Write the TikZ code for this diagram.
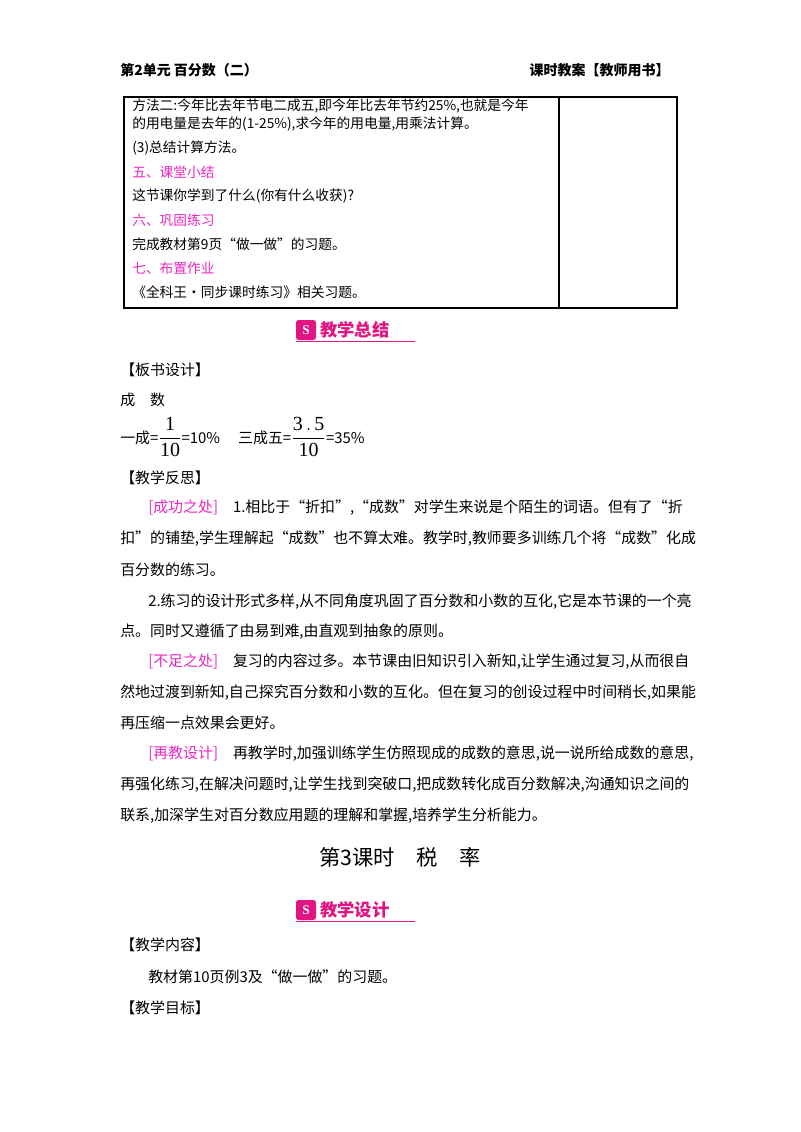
\documentclass[tikz,border=0pt]{standalone}
\usepackage{fontspec}
\setmainfont{Liberation Serif}
\newfontfamily\cjk{Noto Sans CJK SC}
\definecolor{pinkc}{RGB}{235,40,190}
\definecolor{bannerc}{RGB}{225,20,130}
\newcommand{\bigfr}[2]{{\fontsize{15}{17}\selectfont$\displaystyle\frac{\mathrm{#1}}{\mathrm{#2}}$}}
\begin{document}
\begin{tikzpicture}[x=0.75pt,y=-0.75pt,
  tb/.style={anchor=west,inner sep=0pt,font=\cjk\fontsize{10.3}{12}\selectfont},
  bd/.style={anchor=west,inner sep=0pt,font=\cjk\fontsize{11.2}{13}\selectfont},
  hd/.style={anchor=west,inner sep=0pt,font=\cjk\bfseries\fontsize{10.5}{12}\selectfont},
  pk/.style={text=pinkc}]
\useasboundingbox (0,0) rectangle (800,1132);
% header
\node[hd] (h1) at (120,70) {第2单元 百分数（二）};
\node[hd,anchor=east] (h2) at (670,70) {课时教案【教师用书】};
% table
\draw[line width=0.9pt] (124,97) rectangle (677,308);
\draw[line width=0.9pt] (559,97) -- (559,308);
\node[tb] (t1) at (132,106) {方法二:今年比去年节电二成五,即今年比去年节约25\%,也就是今年};
\node[tb] (t2) at (132,124) {的用电量是去年的(1-25\%),求今年的用电量,用乘法计算。};
\node[tb] (t3) at (132,148) {(3)总结计算方法。};
\node[tb,pk] (t4) at (132,172) {五、课堂小结};
\node[tb] (t5) at (132,196) {这节课你学到了什么(你有什么收获)?};
\node[tb,pk] (t6) at (132,220) {六、巩固练习};
\node[tb] (t7) at (132,244) {完成教材第9页“做一做”的习题。};
\node[tb,pk] (t8) at (132,268) {七、布置作业};
\node[tb] (t9) at (132,292) {《全科王·同步课时练习》相关习题。};
% banner 1
\fill[bannerc,rounded corners=2pt] (296,320) rectangle (316,340);
\node[text=white,font=\bfseries\fontsize{10}{10}\selectfont] (i1) at (306,330) {S};
\node[anchor=west,inner sep=0pt,text=bannerc,font=\cjk\bfseries\fontsize{13}{14}\selectfont] (b1) at (320,330) {教学总结};
\draw[bannerc,line width=0.6pt] (296,341.5) -- (415,341.5);
% body
\node[bd] (p1) at (120,370) {【板书设计】};
\node[bd] (p2) at (120,400) {成\hspace{1em}数};
\node[bd] (p3) at (120,437) {一成=\bigfr{1}{10}=10\%\hspace{1.2em}三成五=\bigfr{3\,.\,5}{10}=35\%};
\node[bd] (p4) at (120,478) {【教学反思】};
\node[bd] (l1) at (148,508) {\textcolor{pinkc}{[成功之处]}\hspace{1em}1.相比于“折扣”,“成数”对学生来说是个陌生的词语。但有了“折};
\node[bd] (l2) at (120,539) {扣”的铺垫,学生理解起“成数”也不算太难。教学时,教师要多训练几个将“成数”化成};
\node[bd] (l3) at (120,570) {百分数的练习。};
\node[bd] (l4) at (148,602) {2.练习的设计形式多样,从不同角度巩固了百分数和小数的互化,它是本节课的一个亮};
\node[bd] (l5) at (120,632) {点。同时又遵循了由易到难,由直观到抽象的原则。};
\node[bd] (l6) at (148,662) {\textcolor{pinkc}{[不足之处]}\hspace{1em}复习的内容过多。本节课由旧知识引入新知,让学生通过复习,从而很自};
\node[bd] (l7) at (120,693) {然地过渡到新知,自己探究百分数和小数的互化。但在复习的创设过程中时间稍长,如果能};
\node[bd] (l8) at (120,723) {再压缩一点效果会更好。};
\node[bd] (l9) at (148,754) {\textcolor{pinkc}{[再教设计]}\hspace{1em}再教学时,加强训练学生仿照现成的成数的意思,说一说所给成数的意思,};
\node[bd] (l10) at (120,785) {再强化练习,在解决问题时,让学生找到突破口,把成数转化成百分数解决,沟通知识之间的};
\node[bd] (l11) at (120,816) {联系,加深学生对百分数应用题的理解和掌握,培养学生分析能力。};
% title
\node[inner sep=0pt,font=\cjk\fontsize{16}{18}\selectfont] (title) at (400,857) {第3课时\hspace{1em}税\hspace{1em}率};
% banner 2
\fill[bannerc,rounded corners=2pt] (296,900) rectangle (316,920);
\node[text=white,font=\bfseries\fontsize{10}{10}\selectfont] (i2) at (306,910) {S};
\node[anchor=west,inner sep=0pt,text=bannerc,font=\cjk\bfseries\fontsize{13}{14}\selectfont] (b2) at (320,910) {教学设计};
\draw[bannerc,line width=0.6pt] (296,921.5) -- (415,921.5);
\node[bd] (q1) at (120,945) {【教学内容】};
\node[bd] (q2) at (148,977) {教材第10页例3及“做一做”的习题。};
\node[bd] (q3) at (120,1008) {【教学目标】};
\end{tikzpicture}
\end{document}
